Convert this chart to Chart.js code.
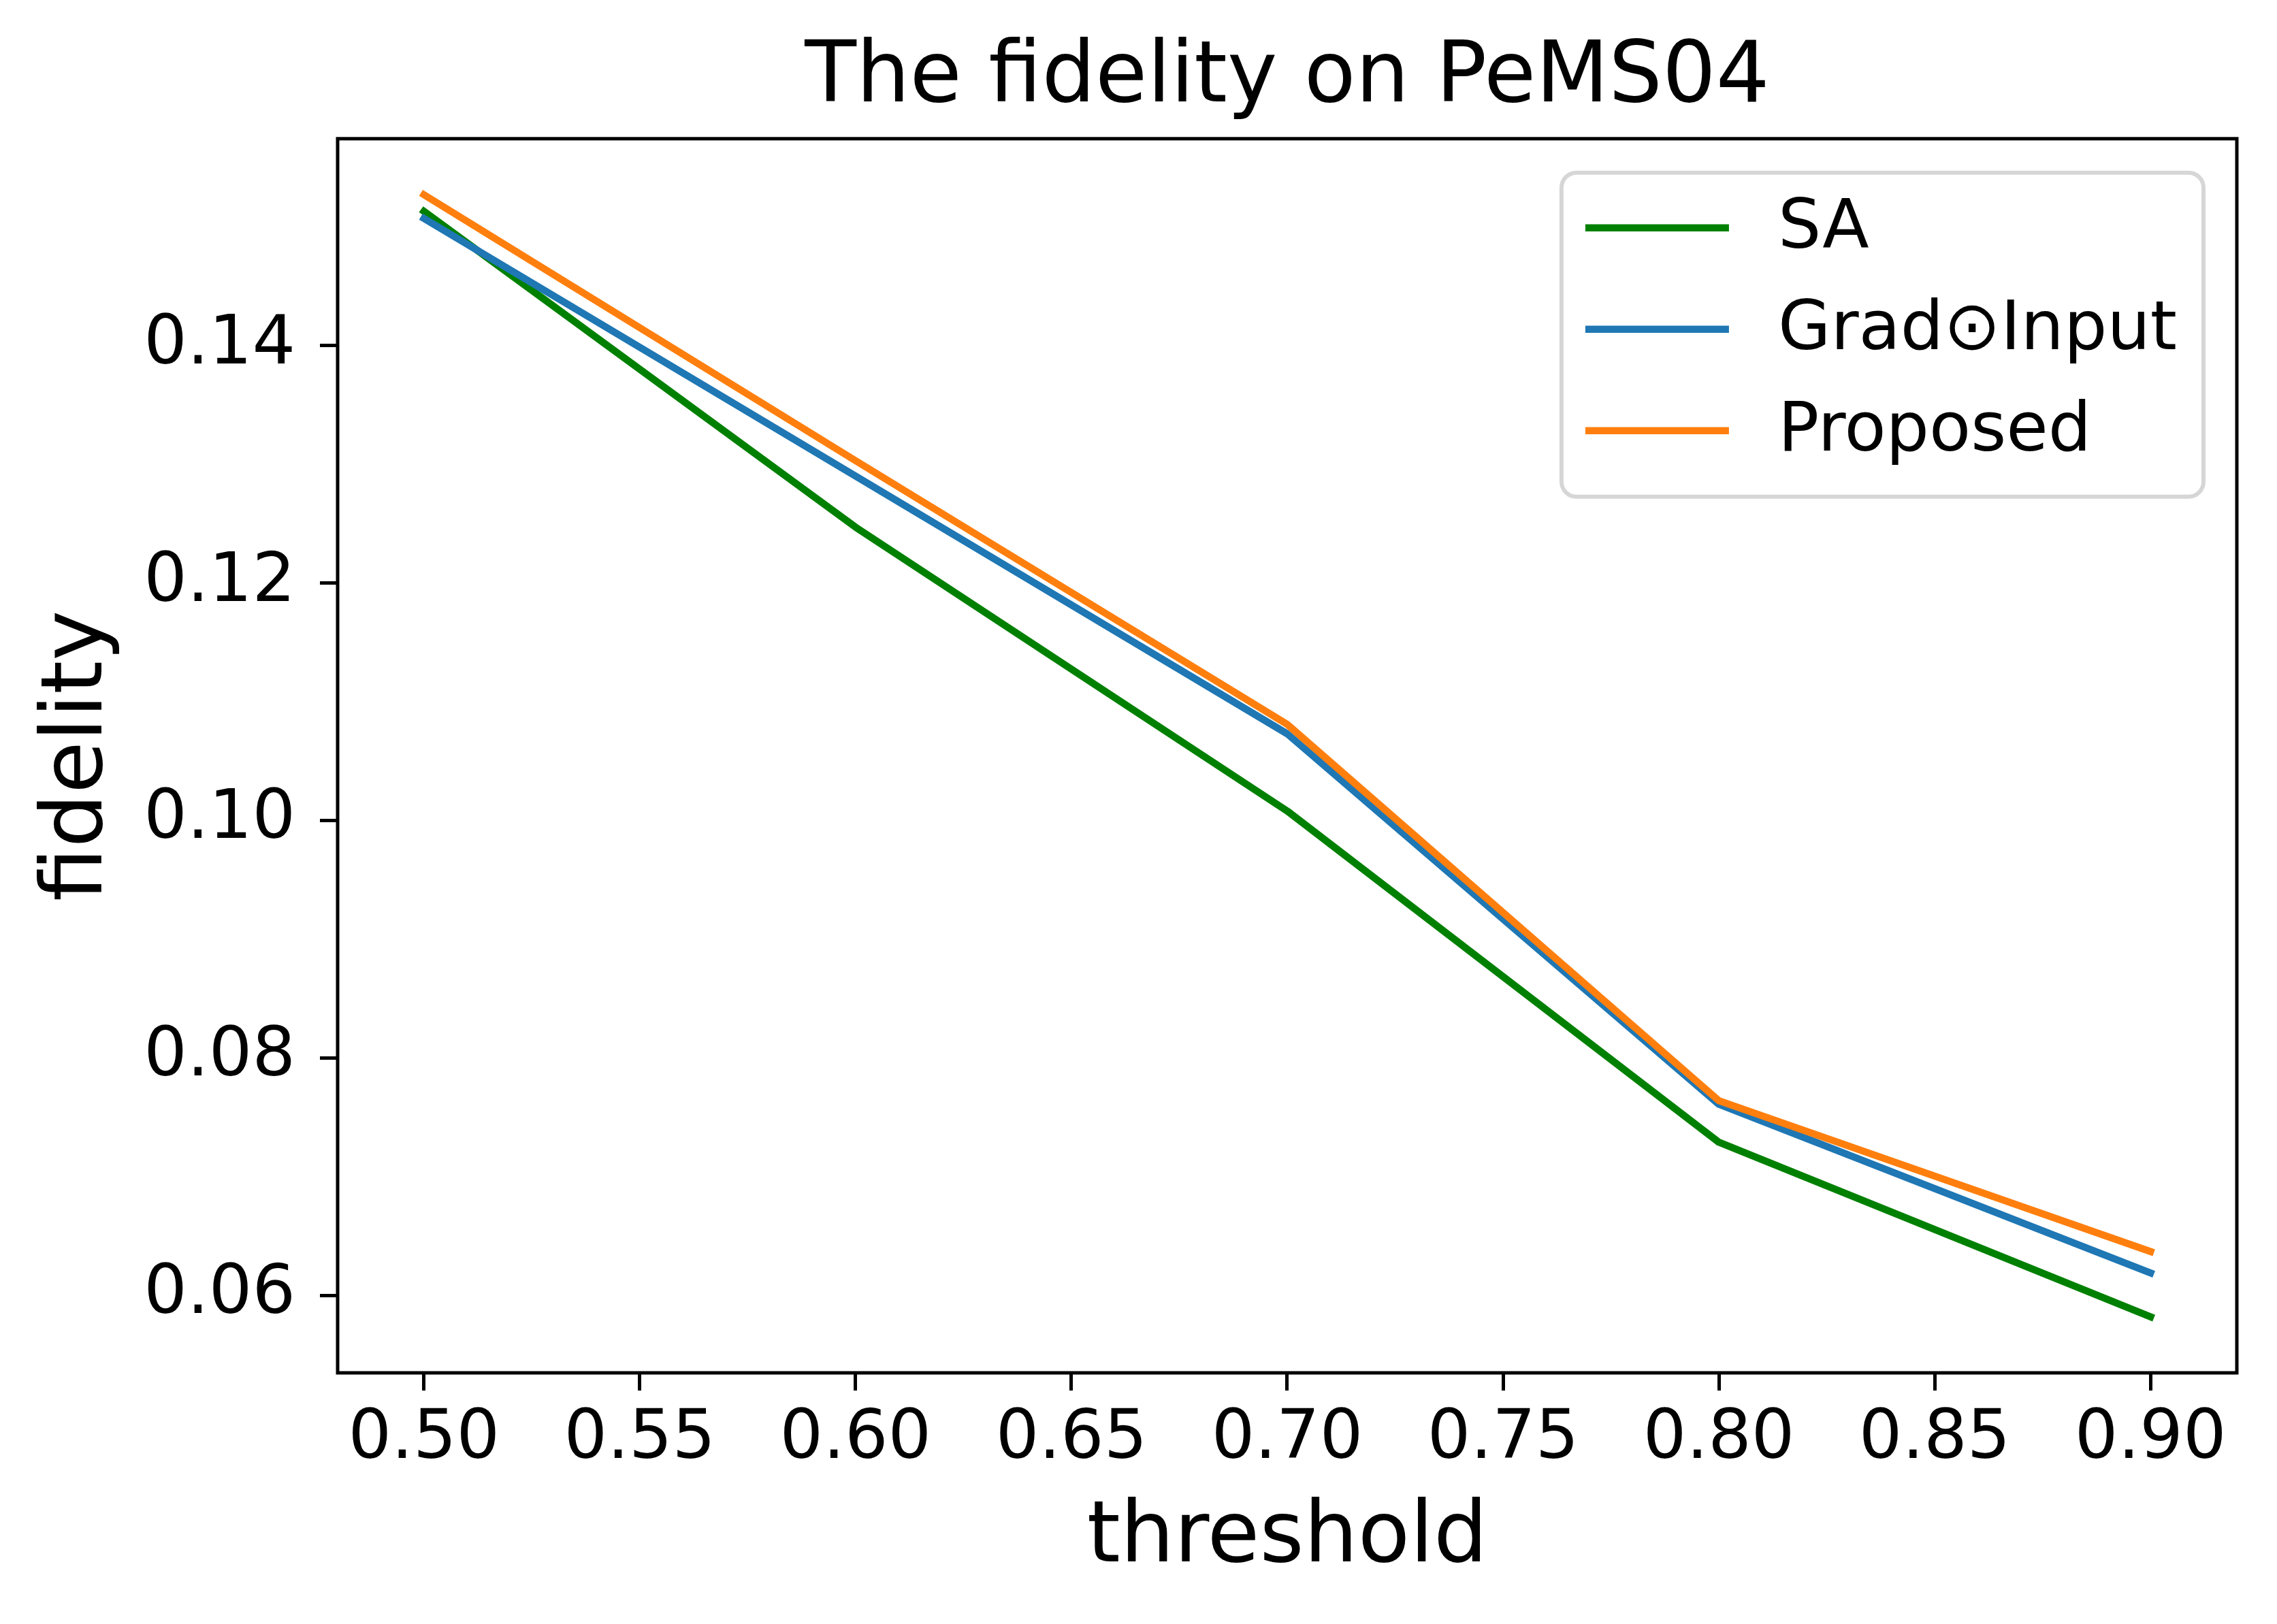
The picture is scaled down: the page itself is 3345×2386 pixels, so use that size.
<!DOCTYPE html>
<html>
<head>
<meta charset="utf-8">
<title>The fidelity on PeMS04</title>
<script src="https://cdn.jsdelivr.net/npm/chart.js@4.4.1/dist/chart.umd.min.js"></script>
<style>
  html, body { margin: 0; padding: 0; background: #fff; }
  canvas { display: block; }
</style>
</head>
<body>
<canvas id="fidelityChart" width="3345" height="2386"></canvas>
<script>
// data
const thresholds = [0.5, 0.6, 0.7, 0.8, 0.9]
const saValues = [0.1513, 0.1247, 0.1008, 0.0729, 0.0582]
const gradInputValues = [0.1507, 0.129, 0.1073, 0.0761, 0.0619]
const proposedValues = [0.1527, 0.1303, 0.1081, 0.0764, 0.0637]

const xTicks = [0.5, 0.55, 0.6, 0.65, 0.7, 0.75, 0.8, 0.85, 0.9]
const yTicks = [0.06, 0.08, 0.1, 0.12, 0.14]
const xRange = [0.48, 0.92]
const yRange = [0.05348, 0.15742]

const FONT = "'DejaVu Sans'"
Chart.defaults.color = '#000'
Chart.defaults.font.family = FONT

const toPoints = (vals) => thresholds.map((t, i) => ({ x: t, y: vals[i] }))

// matplotlib-style closed frame around the plot area
const frame = {
  id: 'frame',
  afterDatasetsDraw(chart) {
    const { ctx, chartArea } = chart
    ctx.save()
    ctx.strokeStyle = '#000'
    ctx.lineWidth = 5
    ctx.strokeRect(chartArea.left, chartArea.top, chartArea.right - chartArea.left, chartArea.bottom - chartArea.top)
    ctx.restore()
  },
}

// legend box in the upper right corner of the axes
const boxLegend = {
  id: 'boxLegend',
  afterDraw(chart) {
    const { ctx, chartArea } = chart
    const fs = 100
    const items = chart.data.datasets
    ctx.save()
    ctx.font = fs + 'px ' + FONT
    const textW = Math.max(...items.map((d) => ctx.measureText(d.label).width))
    const w = 35 + 211 + 72 + textW + 39
    const h = 476
    const right = chartArea.right - 49
    const left = right - w
    const top = chartArea.top + 50

    ctx.beginPath()
    ctx.roundRect(left, top, w, h, 22)
    ctx.fillStyle = 'rgba(255,255,255,0.8)'
    ctx.fill()
    ctx.lineWidth = 6
    ctx.strokeStyle = 'rgba(204,204,204,0.8)'
    ctx.stroke()

    items.forEach((d, i) => {
      const y = top + 81 + i * 149
      ctx.beginPath()
      ctx.moveTo(left + 35, y)
      ctx.lineTo(left + 35 + 211, y)
      ctx.strokeStyle = d.borderColor
      ctx.lineWidth = 10.5
      ctx.lineCap = 'butt'
      ctx.stroke()
      ctx.fillStyle = '#000'
      ctx.textBaseline = 'middle'
      ctx.textAlign = 'left'
      ctx.fillText(d.label, left + 35 + 211 + 72, y + 3)
    })
    ctx.restore()
  },
}

const lineStyle = {
  borderWidth: 10.5,
  pointRadius: 0,
  tension: 0,
  fill: false,
  borderCapStyle: 'square',
  borderJoinStyle: 'round',
}

const ctx = document.getElementById('fidelityChart').getContext('2d')

new Chart(ctx, {
  type: 'line',
  data: {
    datasets: [
      { label: 'SA', data: toPoints(saValues), borderColor: '#008000', order: 3, ...lineStyle },
      { label: 'Grad\u2299Input', data: toPoints(gradInputValues), borderColor: '#1f77b4', order: 2, ...lineStyle },
      { label: 'Proposed', data: toPoints(proposedValues), borderColor: '#ff7f0e', order: 1, ...lineStyle },
    ],
  },
  options: {
    responsive: false,
    devicePixelRatio: 1,
    animation: false,
    layout: { padding: { left: 0, right: 59, top: 0, bottom: 0 } },
    plugins: {
      legend: { display: false },
      tooltip: { enabled: false },
      title: {
        display: true,
        text: 'The fidelity on PeMS04',
        fullSize: false,
        font: { size: 124, weight: 'normal' },
        padding: { top: 42, bottom: 13 },
      },
    },
    scales: {
      x: {
        type: 'linear',
        min: xRange[0],
        max: xRange[1],
        afterBuildTicks: (scale) => {
          scale.ticks = xTicks.map((v) => ({ value: v }))
        },
        afterFit: (scale) => {
          scale.height = 369
        },
        ticks: {
          autoSkip: false,
          maxRotation: 0,
          padding: 13,
          font: { size: 100 },
          callback: (v) => Number(v).toFixed(2),
        },
        grid: {
          drawOnChartArea: false,
          drawTicks: true,
          tickLength: 26,
          tickWidth: 5,
          tickColor: '#000',
        },
        border: { display: false },
        title: {
          display: true,
          text: 'threshold',
          font: { size: 125 },
          padding: { top: 0, bottom: 49 },
        },
      },
      y: {
        type: 'linear',
        min: yRange[0],
        max: yRange[1],
        afterBuildTicks: (scale) => {
          scale.ticks = yTicks.map((v) => ({ value: v }))
        },
        afterFit: (scale) => {
          scale.width = 496
        },
        ticks: {
          padding: 36,
          font: { size: 100 },
          callback: (v) => Number(v).toFixed(2),
        },
        grid: {
          drawOnChartArea: false,
          drawTicks: true,
          tickLength: 26,
          tickWidth: 5,
          tickColor: '#000',
        },
        border: { display: false },
        title: {
          display: true,
          text: 'fidelity',
          font: { size: 125 },
          padding: { top: 42, bottom: 0 },
        },
      },
    },
  },
  plugins: [frame, boxLegend],
})
</script>
</body>
</html>
